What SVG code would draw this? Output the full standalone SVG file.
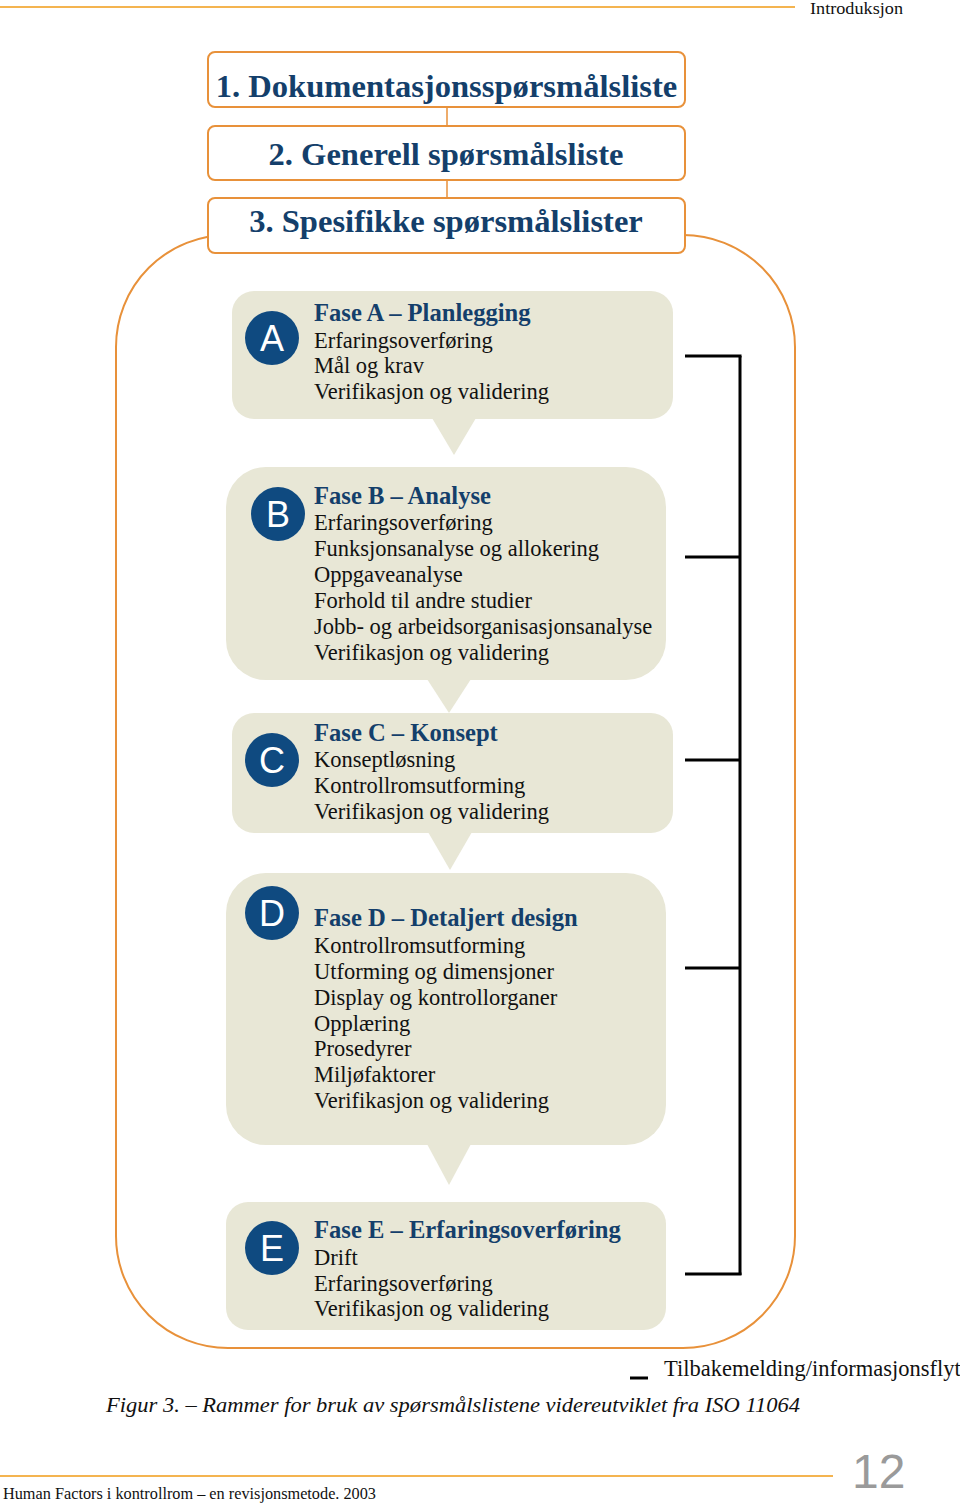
<svg xmlns="http://www.w3.org/2000/svg" width="960" height="1505" viewBox="0 0 960 1505">
<style>
.hdr{fill:none;stroke:#F4B450;stroke-width:2}
.lst{fill:#fff;stroke:#E8913A;stroke-width:2}
.lt{font-family:"Liberation Serif","Times New Roman",serif;font-weight:bold;font-size:32.6px;fill:#143F6B;text-anchor:middle}
.frame{fill:none;stroke:#E8913A;stroke-width:2}
.ph{fill:#E8E7D6}
.circ{fill:#0F4A80}
.let{font-family:"Liberation Sans",Arial,sans-serif;font-size:36px;fill:#fff;text-anchor:middle}
.tt{font-family:"Liberation Serif","Times New Roman",serif;font-weight:bold;font-size:24.6px;fill:#143F6B}
.it{font-family:"Liberation Serif","Times New Roman",serif;font-size:22.5px;fill:#111}
.br{fill:none;stroke:#000;stroke-width:3}
.con{fill:none;stroke:#E8913A;stroke-width:1.5}
.ser{font-family:"Liberation Serif","Times New Roman",serif;fill:#111}
</style>

<!-- header -->
<line class="hdr" x1="0" y1="7" x2="795" y2="7"/>
<text class="ser" x="810" y="14" font-size="17" textLength="93" lengthAdjust="spacingAndGlyphs">Introduksjon</text>

<!-- outer frame -->
<rect class="frame" x="116" y="235" width="679" height="1113" rx="112" ry="112"/>

<!-- connectors -->
<g id="connectors">
  <line class="con" x1="447" y1="107" x2="447" y2="126"/>
  <line class="con" x1="447" y1="180" x2="447" y2="198"/>
  <g id="feedback-bracket">
    <line class="br" x1="740" y1="356" x2="740" y2="1275"/>
    <line class="br" x1="685" y1="356" x2="741.5" y2="356"/>
    <line class="br" x1="685" y1="557" x2="740" y2="557"/>
    <line class="br" x1="685" y1="760" x2="740" y2="760"/>
    <line class="br" x1="685" y1="968" x2="740" y2="968"/>
    <line class="br" x1="685" y1="1274" x2="741.5" y2="1274"/>
  </g>
</g>

<!-- list boxes -->
<g id="list1">
  <rect class="lst" x="208" y="52" width="477" height="55" rx="7"/>
  <text class="lt" x="446.5" y="97">1. Dokumentasjonsspørsmålsliste</text>
</g>
<g id="list2">
  <rect class="lst" x="208" y="126" width="477" height="54" rx="7"/>
  <text class="lt" x="446" y="165">2. Generell spørsmålsliste</text>
</g>
<g id="list3">
  <rect class="lst" x="208" y="198" width="477" height="55" rx="7"/>
  <text class="lt" x="446" y="232">3. Spesifikke spørsmålslister</text>
</g>

<!-- Phase A -->
<g id="faseA">
  <rect class="ph" x="232" y="291" width="441" height="128" rx="22"/>
  <polygon class="ph" points="432,418 476,418 454,455"/>
  <circle class="circ" cx="272" cy="338" r="27"/>
  <text class="let" x="272" y="351">A</text>
  <text class="tt" x="314" y="321">Fase A – Planlegging</text>
  <text class="it" x="314" y="348">Erfaringsoverføring</text>
  <text class="it" x="314" y="373">Mål og krav</text>
  <text class="it" x="314" y="399">Verifikasjon og validering</text>
</g>

<!-- Phase B -->
<g id="faseB">
  <rect class="ph" x="226" y="467" width="440" height="213" rx="40"/>
  <polygon class="ph" points="427,679 471,679 449,713"/>
  <circle class="circ" cx="278" cy="514" r="27"/>
  <text class="let" x="278" y="527">B</text>
  <text class="tt" x="314" y="504">Fase B – Analyse</text>
  <text class="it" x="314" y="530">Erfaringsoverføring</text>
  <text class="it" x="314" y="556">Funksjonsanalyse og allokering</text>
  <text class="it" x="314" y="582">Oppgaveanalyse</text>
  <text class="it" x="314" y="608">Forhold til andre studier</text>
  <text class="it" x="314" y="634">Jobb- og arbeidsorganisasjonsanalyse</text>
  <text class="it" x="314" y="660">Verifikasjon og validering</text>
</g>

<!-- Phase C -->
<g id="faseC">
  <rect class="ph" x="232" y="713" width="441" height="120" rx="22"/>
  <polygon class="ph" points="428,832 472,832 450,870"/>
  <circle class="circ" cx="272" cy="760" r="27"/>
  <text class="let" x="272" y="773">C</text>
  <text class="tt" x="314" y="741">Fase C – Konsept</text>
  <text class="it" x="314" y="767">Konseptløsning</text>
  <text class="it" x="314" y="793">Kontrollromsutforming</text>
  <text class="it" x="314" y="819">Verifikasjon og validering</text>
</g>

<!-- Phase D -->
<g id="faseD">
  <rect class="ph" x="226" y="873" width="440" height="272" rx="40"/>
  <polygon class="ph" points="427,1144 471,1144 449,1185"/>
  <circle class="circ" cx="272" cy="913" r="27"/>
  <text class="let" x="272" y="926">D</text>
  <text class="tt" x="314" y="926">Fase D – Detaljert design</text>
  <text class="it" x="314" y="953">Kontrollromsutforming</text>
  <text class="it" x="314" y="979">Utforming og dimensjoner</text>
  <text class="it" x="314" y="1005">Display og kontrollorganer</text>
  <text class="it" x="314" y="1031">Opplæring</text>
  <text class="it" x="314" y="1056">Prosedyrer</text>
  <text class="it" x="314" y="1082">Miljøfaktorer</text>
  <text class="it" x="314" y="1108">Verifikasjon og validering</text>
</g>

<!-- Phase E -->
<g id="faseE">
  <rect class="ph" x="226" y="1202" width="440" height="128" rx="22"/>
  <circle class="circ" cx="272" cy="1248" r="27"/>
  <text class="let" x="272" y="1261">E</text>
  <text class="tt" x="314" y="1238">Fase E – Erfaringsoverføring</text>
  <text class="it" x="314" y="1265">Drift</text>
  <text class="it" x="314" y="1291">Erfaringsoverføring</text>
  <text class="it" x="314" y="1316">Verifikasjon og validering</text>
</g>

<!-- legend -->
<g id="legend">
  <line x1="630" y1="1378" x2="648" y2="1378" stroke="#000" stroke-width="3"/>
  <text class="ser" x="664" y="1376" font-size="22.5">Tilbakemelding/informasjonsflyt</text>
</g>

<!-- caption -->
<text class="ser" x="106" y="1412" font-size="22" font-style="italic" textLength="694" lengthAdjust="spacingAndGlyphs">Figur 3. – Rammer for bruk av spørsmålslistene videreutviklet fra ISO 11064</text>

<!-- footer -->
<line class="hdr" x1="0" y1="1476" x2="833" y2="1476"/>
<text x="852" y="1488" font-family="Liberation Sans, Arial, sans-serif" font-size="48" fill="#9A9A9A">12</text>
<text class="ser" x="3" y="1499" font-size="16" textLength="373" lengthAdjust="spacingAndGlyphs">Human Factors i kontrollrom – en revisjonsmetode. 2003</text>
</svg>
